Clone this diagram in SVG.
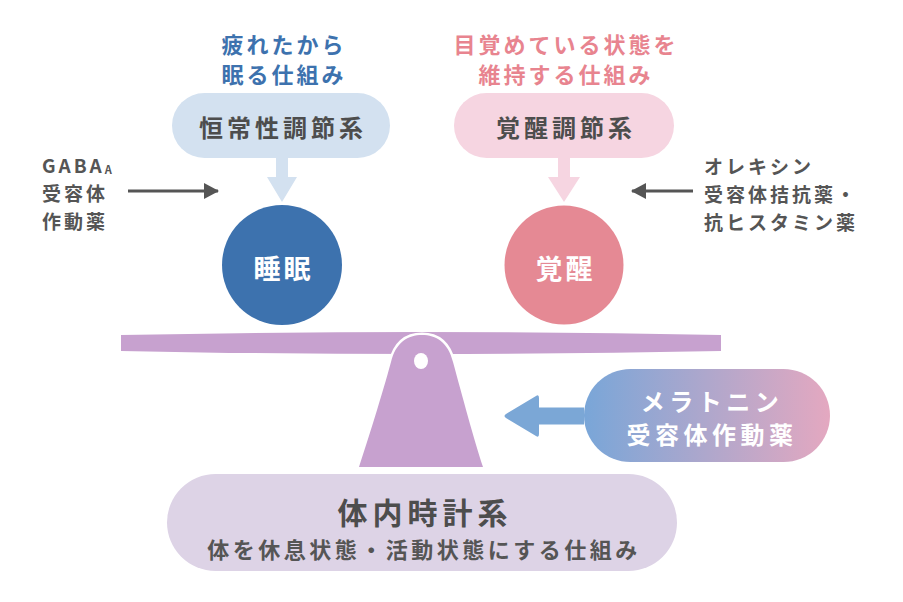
<svg xmlns="http://www.w3.org/2000/svg" width="903" height="602" viewBox="0 0 903 602">
<defs>
<linearGradient id="melGrad" x1="0" y1="0" x2="1" y2="0">
<stop offset="0" stop-color="#79a6d8"/>
<stop offset="1" stop-color="#e4a8c0"/>
</linearGradient>
<marker id="darkHead" markerWidth="15" markerHeight="16" refX="14" refY="8" orient="auto" markerUnits="userSpaceOnUse" viewBox="0 0 15 16">
<path d="M0,0 L15,8 L0,16 Z" fill="#555555"/>
</marker>
</defs>
<style>
text{font-family:"Noto Sans CJK JP","Noto Sans",sans-serif;font-weight:700;text-anchor:middle;dominant-baseline:central}
.head{font-size:22px;letter-spacing:3px}
.blue{fill:#3d72ae}
.pink{fill:#e8848f}
.pilltxt{font-size:24px;letter-spacing:4px;fill:#4d4d4d}
.side{font-size:19px;letter-spacing:3px;fill:#555555;text-anchor:start}
.circtxt{font-size:27px;letter-spacing:3px;fill:#ffffff}
.meltxt{font-size:24px;letter-spacing:4.5px;fill:#ffffff}
.conn{stroke:#555555;stroke-width:3;fill:none}
</style>
<rect width="903" height="602" fill="#ffffff"/>

<g id="label-sleep">
<text class="head blue" x="284" y="43">疲れたから</text>
<text class="head blue" x="284" y="73">眠る仕組み</text>
</g>
<g id="label-wake">
<text class="head pink" x="566" y="43">目覚めている状態を</text>
<text class="head pink" x="566" y="73">維持する仕組み</text>
</g>

<g id="connectors">
<path d="M276,157 L288,157 L288,177 L297,177 L282,202 L267,177 L276,177 Z" fill="#d3e1f0"/>
<path d="M558,157 L570,157 L570,177 L580,177 L564,202 L548,177 L558,177 Z" fill="#f6d5e1"/>
<line class="conn" x1="128" y1="191" x2="218" y2="191" marker-end="url(#darkHead)"/>
<line class="conn" x1="693" y1="191" x2="632" y2="191" marker-end="url(#darkHead)"/>
<path d="M584,407.5 L539,407.5 L539,398 Q539,394 536,396 L506,414 Q503,416 506,418 L536,436 Q539,438 539,434 L539,424.5 L584,424.5 Z" fill="#7ba7d6"/>
</g>

<g id="homeostatic">
<rect x="172" y="93" width="218" height="65" rx="32.5" fill="#d3e1f0"/>
<text class="pilltxt" x="283" y="126">恒常性調節系</text>
</g>
<g id="arousal">
<rect x="454" y="93" width="220" height="65" rx="32.5" fill="#f6d5e1"/>
<text class="pilltxt" x="566" y="126">覚醒調節系</text>
</g>

<g id="gaba">
<text class="side" x="42" y="164" letter-spacing="4">GABA<tspan font-size="11" dy="5" letter-spacing="0">A</tspan></text>
<text class="side" x="42" y="192">受容体</text>
<text class="side" x="42" y="220">作動薬</text>
</g>
<g id="orexin">
<text class="side" x="704" y="165">オレキシン</text>
<text class="side" x="704" y="193">受容体拮抗薬・</text>
<text class="side" x="704" y="221">抗ヒスタミン薬</text>
</g>

<g id="sleep">
<circle cx="282" cy="265" r="60" fill="#3d72ae"/>
<text class="circtxt" x="283.5" y="267">睡眠</text>
</g>
<g id="wake">
<circle cx="564" cy="265" r="59.5" fill="#e58994"/>
<text class="circtxt" x="565.5" y="267">覚醒</text>
</g>

<g id="seesaw">
<path d="M121,335 Q421,329 721,335 L721,351 Q421,357 121,351 Z" fill="#c7a1cf"/>
<path d="M359,467 C368,440 382,395 391,362 C396,342 408,335 422,335 C436,335 448,342 453,362 C462,395 474,440 483,467 Z" fill="#c7a1cf" stroke="#ffffff" stroke-width="5" stroke-linejoin="round"/>
<path d="M359,467 C368,440 382,395 391,362 C396,342 408,335 422,335 C436,335 448,342 453,362 C462,395 474,440 483,467 Z" fill="#c7a1cf"/>
<ellipse cx="421" cy="361" rx="7" ry="8" fill="#ffffff"/>
</g>

<g id="melatonin">
<rect x="584" y="369" width="246" height="93" rx="46.5" fill="url(#melGrad)"/>
<text class="meltxt" x="712" y="400">メラトニン</text>
<text class="meltxt" x="712" y="433">受容体作動薬</text>
</g>

<g id="circadian">
<rect x="167" y="474" width="510" height="97" rx="48.5" fill="#ddd3e6"/>
<text x="425" y="511" font-size="30" letter-spacing="5" fill="#4d4d4d">体内時計系</text>
<text x="424" y="548" font-size="22" letter-spacing="3.5" fill="#555555">体を休息状態・活動状態にする仕組み</text>
</g>
</svg>
